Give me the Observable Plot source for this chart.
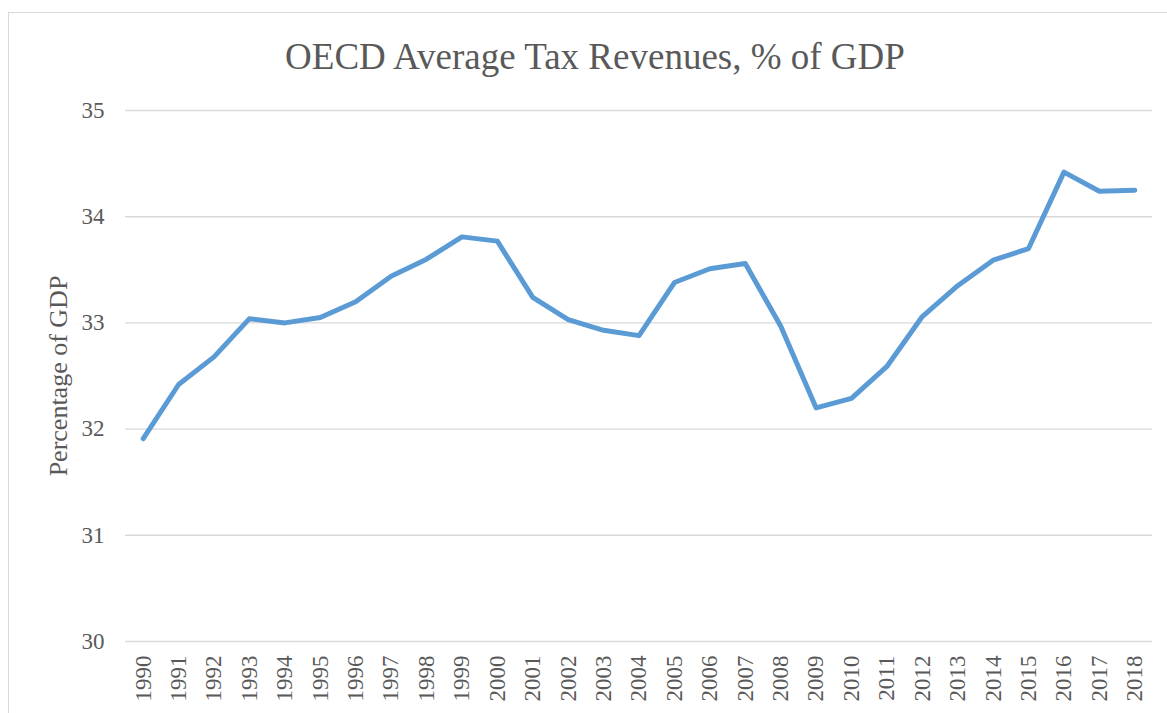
<!DOCTYPE html>
<html>
<head>
<meta charset="utf-8">
<script src="https://cdn.jsdelivr.net/npm/d3@7"></script>
<script src="https://cdn.jsdelivr.net/npm/@observablehq/plot@0.6"></script>
<style>
  html, body { margin: 0; padding: 0; background: #fff; }
  #wrap { position: relative; width: 1167px; height: 713px; overflow: hidden; }
  #frame { position: absolute; left: 8px; top: 12px; width: 1220px; height: 800px;
           border: 1.5px solid #d9d9d9; box-sizing: border-box; pointer-events: none; }
  #title { position: relative; height: 90px; box-sizing: border-box; padding-top: 38px;
           line-height: 37px; width: 1190px; text-align: center;
           font-family: "Liberation Serif", "Times New Roman", serif; font-size: 37px; color: #595959; }
  #chart { position: relative; }
  #chart svg text { font-family: "Liberation Serif", "Times New Roman", serif; }
</style>
</head>
<body>
<div id="wrap">
  <div id="frame"></div>
  <div id="title">OECD Average Tax Revenues, % of GDP</div>
  <div id="chart"></div>
</div>
<script>
const years = [1990, 1991, 1992, 1993, 1994, 1995, 1996, 1997, 1998, 1999,
               2000, 2001, 2002, 2003, 2004, 2005, 2006, 2007, 2008, 2009,
               2010, 2011, 2012, 2013, 2014, 2015, 2016, 2017, 2018];
const taxRevenue = [31.91, 32.42, 32.68, 33.04, 33.00, 33.05, 33.20, 33.44, 33.60, 33.81,
                    33.77, 33.24, 33.03, 32.93, 32.88, 33.38, 33.51, 33.56, 32.97, 32.20,
                    32.29, 32.59, 33.06, 33.35, 33.59, 33.70, 34.42, 34.24, 34.25];
const yTicks = [30, 31, 32, 33, 34, 35];
const yLabel = "Percentage of GDP";

const data = years.map((year, i) => ({year, value: taxRevenue[i]}));

const serif = "Liberation Serif, Times New Roman, serif";

const chart = Plot.plot({
  width: 1167,
  height: 623,
  marginTop: 20,
  marginBottom: 72,
  marginLeft: 125,
  marginRight: 15,
  style: { fontFamily: serif, color: "#595959", background: "transparent", overflow: "visible" },
  x: { type: "point", domain: years, padding: 0.5, round: false },
  y: { domain: [30, 35] },
  marks: [
    Plot.gridY(yTicks, { stroke: "#d9d9d9", strokeOpacity: 1, strokeWidth: 1.4 }),
    Plot.axisY(yTicks, { tickSize: 0, tickPadding: 21, fontSize: 23, label: null, fill: "#595959",
                         fontFamily: serif, tickFormat: d => String(d) }),
    Plot.axisX({ tickSize: 0, tickPadding: 14, tickRotate: -90, fontSize: 23, label: null,
                 tickFormat: d => String(d), fill: "#595959", fontFamily: serif }),
    Plot.text([yLabel], { frameAnchor: "left", textAnchor: "middle", text: d => d, rotate: -90, dx: -67,
                          fontSize: 26, fill: "#595959", fontFamily: serif }),
    Plot.line(data, { x: "year", y: "value", stroke: "#5b9bd5", strokeWidth: 5,
                      strokeLinejoin: "round", strokeLinecap: "round" })
  ]
});
document.getElementById("chart").appendChild(chart);
</script>
</body>
</html>
